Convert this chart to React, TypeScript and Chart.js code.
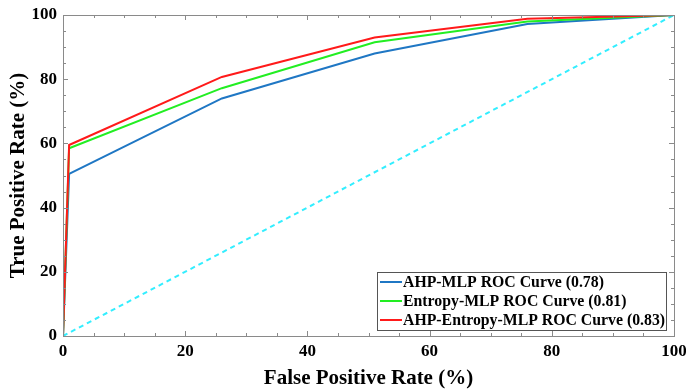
import React, { useEffect, useRef } from "react";
import { Chart, registerables } from "chart.js";

Chart.register(...registerables);

const fpr = [0, 1, 26, 51, 76, 100];
const ahpMlp = [0, 50.5, 74, 88, 97.2, 100];
const entropyMlp = [0, 58.5, 77.2, 91.5, 98.0, 100];
const ahpEntropyMlp = [0, 59.5, 80.7, 93.0, 98.8, 100];
const chanceX = [0, 100];
const chanceY = [0, 100];
const seriesLabels = [
  "AHP-MLP ROC Curve (0.78)",
  "Entropy-MLP ROC Curve (0.81)",
  "AHP-Entropy-MLP ROC Curve (0.83)",
];
const seriesColors = ["#1f77c4", "#22ee22", "#ff1a1a"];
const xTicks = [0, 20, 40, 60, 80, 100];
const yTicks = [0, 20, 40, 60, 80, 100];

const FONT = "'Liberation Serif', 'Times New Roman', serif";

const toPts = (xs: number[], ys: number[]) => xs.map((x, i) => ({ x, y: ys[i] }));

const frameAndLegend = {
  id: "frameAndLegend",
  afterDatasetsDraw(chart: any) {
    const { ctx, chartArea: a, scales } = chart;
    const xs = scales.x;
    const ys = scales.y;
    ctx.save();
    ctx.strokeStyle = "#8a8a8a";
    ctx.lineWidth = 1;
    ctx.strokeRect(a.left + 0.5, a.top + 0.5, a.right - a.left, a.bottom - a.top);
    ctx.beginPath();
    for (let v = 0; v <= 100; v += 5) {
      const len = v % 20 === 0 ? 5 : 3;
      const px = Math.round(xs.getPixelForValue(v)) + 0.5;
      ctx.moveTo(px, a.bottom);
      ctx.lineTo(px, a.bottom - len);
      ctx.moveTo(px, a.top);
      ctx.lineTo(px, a.top + len);
      const py = Math.round(ys.getPixelForValue(v)) + 0.5;
      ctx.moveTo(a.left, py);
      ctx.lineTo(a.left + len, py);
      ctx.moveTo(a.right, py);
      ctx.lineTo(a.right - len, py);
    }
    ctx.stroke();
    ctx.restore();
  },
  afterDraw(chart: any) {
    const { ctx, chartArea: a } = chart;
    ctx.save();
    const boxW = 289;
    const boxH = 58;
    const bx = a.right - 8 - boxW;
    const by = a.bottom - 6 - boxH;
    ctx.fillStyle = "#ffffff";
    ctx.fillRect(bx, by, boxW, boxH);
    ctx.strokeStyle = "#555555";
    ctx.lineWidth = 1;
    ctx.strokeRect(bx + 0.5, by + 0.5, boxW, boxH);
    ctx.font = `bold 15.8px ${FONT}`;
    ctx.textBaseline = "middle";
    ctx.fillStyle = "#000";
    seriesLabels.forEach((lab, i) => {
      const cy = by + 10 + i * 19;
      ctx.strokeStyle = seriesColors[i];
      ctx.lineWidth = 2;
      ctx.beginPath();
      ctx.moveTo(bx + 3, cy);
      ctx.lineTo(bx + 25, cy);
      ctx.stroke();
      ctx.fillText(lab, bx + 26, cy + 1);
    });
    ctx.restore();
  },
};

export default function App() {
  const ref = useRef<HTMLCanvasElement | null>(null);
  useEffect(() => {
    document.body.style.margin = "0";
    const series = [ahpMlp, entropyMlp, ahpEntropyMlp];
    const chart = new Chart(ref.current!, {
      type: "line",
      data: {
        datasets: [
          {
            label: "Chance",
            data: toPts(chanceX, chanceY),
            borderColor: "#33eeff",
            borderWidth: 2,
            borderDash: [5, 4],
            pointRadius: 0,
            fill: false,
            order: 4,
          },
          ...series.map((s, i) => ({
            label: seriesLabels[i],
            data: toPts(fpr, s),
            borderColor: seriesColors[i],
            borderWidth: 2,
            pointRadius: 0,
            fill: false,
            tension: 0,
            order: 3 - i,
          })),
        ],
      },
      options: {
        animation: false,
        responsive: false,
        maintainAspectRatio: false,
        layout: { padding: { top: 15, right: 12, left: 0, bottom: 0 } },
        plugins: {
          legend: { display: false },
          tooltip: { enabled: false },
        },
        scales: {
          x: {
            type: "linear",
            min: 0,
            max: 100,
            afterFit: (s: any) => {
              s.height = 55;
              s.paddingRight = 0;
              s.paddingLeft = 0;
            },
            afterBuildTicks: (s: any) => {
              s.ticks = xTicks.map((v) => ({ value: v }));
            },
            grid: { display: false, drawTicks: false },
            border: { display: false },
            ticks: {
              padding: 5,
              color: "#000",
              font: { family: FONT, weight: "bold", size: 17 },
              maxRotation: 0,
            },
            title: {
              display: true,
              text: "False Positive Rate (%)",
              color: "#000",
              font: { family: FONT, weight: "bold", size: 21 },
              padding: { top: 4, bottom: 0 },
            },
          },
          y: {
            type: "linear",
            min: 0,
            max: 100,
            afterFit: (s: any) => {
              s.width = 63;
              s.paddingTop = 0;
              s.paddingBottom = 0;
            },
            afterBuildTicks: (s: any) => {
              s.ticks = yTicks.map((v) => ({ value: v }));
            },
            grid: { display: false, drawTicks: false },
            border: { display: false },
            ticks: {
              padding: 6,
              color: "#000",
              font: { family: FONT, weight: "bold", size: 17 },
            },
            title: {
              display: true,
              text: "True Positive Rate (%)",
              color: "#000",
              font: { family: FONT, weight: "bold", size: 21 },
              padding: { top: 6, bottom: 0 },
            },
          },
        },
      } as any,
      plugins: [frameAndLegend],
    });
    return () => chart.destroy();
  }, []);
  return (
    <div style={{ position: "absolute", left: 0, top: 0, width: 686, height: 391, background: "#fff" }}>
      <canvas ref={ref} width={686} height={391} style={{ width: 686, height: 391 }} />
    </div>
  );
}
